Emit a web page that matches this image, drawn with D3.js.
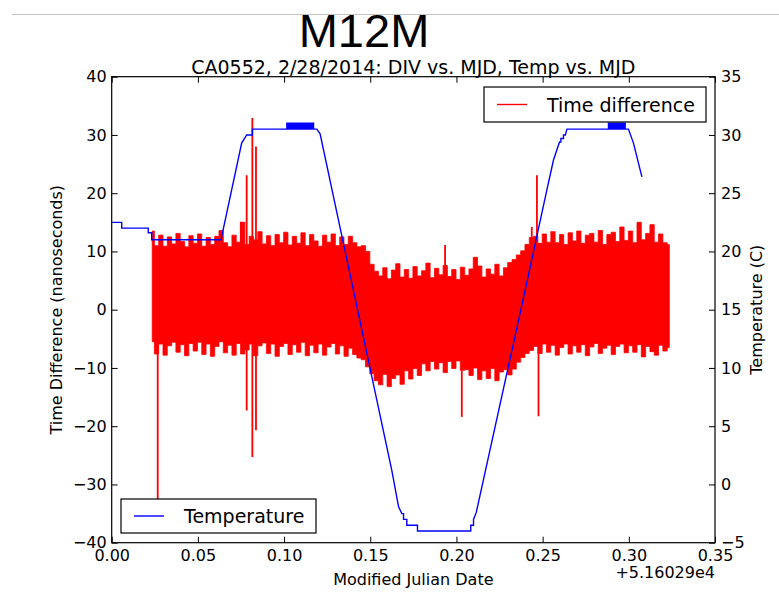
<!DOCTYPE html>
<html>
<head>
<meta charset="utf-8">
<script src="https://cdn.jsdelivr.net/npm/d3@7.9.0/dist/d3.min.js"></script>
<style>
  body { margin: 0; background: #fff; }
  text { font-family: "DejaVu Sans", sans-serif; fill: #000; }
</style>
</head>
<body>
<svg id="chart" width="779" height="595"></svg>
<script>
// ---- data ----
const slideTitle = 'M12M';
const plotTitle = 'CA0552, 2/28/2014: DIV vs. MJD, Temp vs. MJD';
const xLabel = 'Modified Julian Date';
const yLeftLabel = 'Time Difference (nanoseconds)';
const yRightLabel = 'Temperature (C)';
const xOffsetLabel = '+5.16029e4';

const xTicks = [0, 0.05, 0.10, 0.15, 0.20, 0.25, 0.30, 0.35];
const yLeftTicks = [-40, -30, -20, -10, 0, 10, 20, 30, 40];
const yRightTicks = [-5, 0, 5, 10, 15, 20, 25, 30, 35];

// time difference: envelope of the dense noise (upper / lower) at sample dates
const tdX = [
  0.0235, 0.026, 0.0285, 0.031, 0.0335, 0.036, 0.0385, 0.041, 0.0435, 0.046,
  0.0485, 0.051, 0.0535, 0.056, 0.0585, 0.061, 0.0635, 0.066, 0.0685, 0.071,
  0.0735, 0.076, 0.0785, 0.081, 0.0835, 0.086, 0.0885, 0.091, 0.0935, 0.096,
  0.0985, 0.101, 0.1035, 0.106, 0.1085, 0.111, 0.1135, 0.116, 0.1185, 0.121,
  0.1235, 0.126, 0.1285, 0.131, 0.1335, 0.136, 0.1385, 0.141, 0.1435,
  0.146, 0.1485, 0.151, 0.1535,
  0.156, 0.1585, 0.161, 0.1635, 0.166, 0.1685, 0.171, 0.1735, 0.176, 0.1785,
  0.181, 0.1835, 0.186, 0.1885, 0.191, 0.1935, 0.196, 0.1985, 0.201, 0.2035,
  0.206, 0.2085, 0.211, 0.2135, 0.216, 0.2185, 0.221, 0.2235, 0.226, 0.2285, 0.231,
  0.2335, 0.236, 0.2385, 0.241, 0.2435,
  0.246, 0.2485, 0.251, 0.2535, 0.256, 0.2585, 0.261, 0.2635, 0.266, 0.2685,
  0.271, 0.2735, 0.276, 0.2785, 0.281, 0.2835, 0.286, 0.2885, 0.291, 0.2935,
  0.296, 0.2985, 0.301, 0.3035, 0.306, 0.3085, 0.311, 0.3135, 0.316, 0.3185, 0.321, 0.3235
];
const tdHi = [
  13.5, 11.0, 12.8, 10.9, 12.5, 11.3, 13.1, 11.7, 10.8, 12.7,
  11.4, 13.0, 10.9, 12.4, 11.2, 12.6, 13.6, 11.5, 10.8, 12.8,
  11.6, 15.0, 11.2, 12.6, 12.0, 13.4, 11.3, 12.7, 11.0, 12.9,
  11.5, 13.3, 11.1, 12.6, 11.4, 13.2, 11.0, 12.9, 11.8, 10.9,
  12.8, 11.6, 13.0, 11.0, 12.5, 11.2, 12.6, 11.5, 10.8,
  11.0, 10.0, 7.8, 6.6,
  5.8, 7.2, 5.3, 6.8, 7.9, 5.6, 6.9, 5.4, 7.4, 5.8,
  6.7, 8.0, 5.5, 7.1, 6.0, 7.6, 5.7, 6.9, 5.2, 7.3,
  5.9, 7.0, 9.0, 7.5, 5.6, 7.0, 6.1, 7.8, 5.8, 7.2, 8.1,
  8.6, 9.4, 10.1, 11.2, 12.4,
  12.6, 11.4, 13.0, 11.6, 13.4, 11.5, 12.9, 11.2, 13.2, 11.8,
  13.5, 11.4, 12.8, 13.1, 11.6, 13.6, 11.2, 12.9, 13.3, 11.7,
  14.2, 11.9, 13.5, 11.5, 15.0, 12.0, 13.1, 14.6, 11.6, 13.0, 11.5, 11.2
];
const tdLo = [
  -5.5, -7.6, -5.9, -7.8, -6.2, -5.6, -7.3, -6.0, -7.9, -5.8,
  -7.1, -5.6, -7.7, -5.9, -8.0, -6.3, -5.5, -7.4, -6.1, -7.8,
  -5.8, -7.6, -6.9, -5.9, -7.9, -6.2, -5.7, -7.5, -5.9, -8.0,
  -6.3, -5.8, -7.7, -6.0, -7.3, -5.6, -7.9, -6.1, -7.4, -5.9,
  -7.8, -6.4, -5.8, -7.6, -6.2, -8.0, -6.6, -7.7, -8.3,
  -8.6, -9.8, -11.0, -12.2,
  -12.9, -11.1, -13.2, -11.8, -11.2, -12.8, -10.5, -11.9, -10.1, -11.3,
  -9.3, -10.5, -8.9, -10.2, -9.1, -10.8, -8.9, -10.1, -8.8, -10.4,
  -10.3, -11.3, -10.0, -12.0, -10.5, -11.8, -10.1, -12.2, -10.7, -10.3, -11.2,
  -10.2, -9.0, -8.2, -7.5, -7.0,
  -6.3, -7.5, -5.9, -7.3, -6.1, -7.8, -6.5, -5.9, -7.6, -6.2,
  -7.3, -6.0, -7.9, -6.4, -5.8, -7.5, -6.6, -6.1, -7.7, -6.3,
  -5.9, -7.4, -6.2, -7.3, -6.0, -8.1, -6.3, -7.2, -7.8, -6.1, -7.1, -6.5
];
// isolated outliers of the time difference (date, value)
const spikeX = [0.0267, 0.0749, 0.0783, 0.0783, 0.0816, 0.0816, 0.0837, 0.0837, 0.1934, 0.2031, 0.2437, 0.2467, 0.2476];
const spikeY = [-32.8, 15.1, 23.1, -17.3, 32.9, -25.3, 28.0, -20.7, 11.1, -18.4, 14.2, 23.1, -18.3];

// temperature trace (date, deg C)
const tempX = [0, 0.0058, 0.0058, 0.0212, 0.0212, 0.0232, 0.0232, 0.0634, 0.0754, 0.0783, 0.0816, 0.0816,
  0.119, 0.1209, 0.1625, 0.1664, 0.1683, 0.1693, 0.1693, 0.1712, 0.1712, 0.1774, 0.1774,
  0.2083, 0.2083, 0.2099, 0.2099, 0.2115, 0.2399, 0.2525, 0.2563, 0.2598, 0.2606, 0.2606,
  0.2621, 0.2621, 0.2632, 0.2641, 0.2998, 0.3027, 0.3076];
const tempY = [22.5, 22.5, 22.0, 22.0, 21.6, 21.6, 21.0, 21.0, 29.3, 30.0, 30.0, 30.5,
  30.5, 30.1, 1.2, -1.9, -2.5, -2.5, -3.0, -3.0, -3.5, -3.5, -4.0,
  -4.0, -3.5, -3.5, -3.0, -2.4, 16.7, 25.3, 27.85, 29.4, 29.4, 29.7,
  29.7, 30.0, 30.0, 30.5, 30.5, 29.3, 26.4];
// dates where the sensor flickered up to 31 C on the plateaus
const flickerX = [
  0.1016, 0.1024, 0.1033, 0.1041, 0.1047, 0.1053, 0.1058, 0.1063, 0.1067, 0.1072,
  0.1077, 0.1081, 0.1086, 0.1091, 0.1095, 0.1100, 0.1106, 0.1110, 0.1115, 0.1119,
  0.1124, 0.1129, 0.1133, 0.1138, 0.1143, 0.1147, 0.1153, 0.1158, 0.1163, 0.1169,
  0.2882, 0.2887, 0.2891, 0.2896, 0.2900, 0.2905, 0.2909, 0.2914, 0.2918, 0.2923,
  0.2927, 0.2932, 0.2936, 0.2941, 0.2945, 0.2950, 0.2954, 0.2959, 0.2963, 0.2968,
  0.2972, 0.2977
];
const flickerTemp = 31.0;
const plateauTemp = 30.5;

// ---- layout ----
const width = 779, height = 595;
const plot = { left: 111.7, right: 715, top: 76.7, bottom: 542.7 };
const tickLen = 6;

const svg = d3.select('#chart');

const x = d3.scaleLinear().domain([0, 0.35]).range([plot.left, plot.right]);
const yL = d3.scaleLinear().domain([-40, 40]).range([plot.bottom, plot.top]);
const yR = d3.scaleLinear().domain([-5, 35]).range([plot.bottom, plot.top]);

// slide header
svg.append('line')
  .attr('x1', 12).attr('x2', width).attr('y1', 14.5).attr('y2', 14.5)
  .attr('stroke', '#c4c4c4').attr('stroke-width', 1.2);
svg.append('text')
  .attr('x', 364).attr('y', 47)
  .attr('text-anchor', 'middle')
  .style('font-family', '"Liberation Sans", Arial, sans-serif')
  .style('font-size', '47px')
  .text(slideTitle);

svg.append('text')
  .attr('x', (plot.left + plot.right) / 2).attr('y', 74)
  .attr('text-anchor', 'middle')
  .style('font-size', '19px')
  .text(plotTitle);

svg.append('defs').append('clipPath').attr('id', 'clip')
  .append('rect')
  .attr('x', plot.left).attr('y', plot.top)
  .attr('width', plot.right - plot.left).attr('height', plot.bottom - plot.top);

const g = svg.append('g').attr('clip-path', 'url(#clip)');

// time difference band
const band = tdX.map((d, i) => ({ x: d, hi: tdHi[i], lo: tdLo[i] }));
g.append('path')
  .datum(band)
  .attr('fill', '#ff0000')
  .attr('stroke', '#ff0000')
  .attr('stroke-width', 0.8)
  .attr('d', d3.area().curve(d3.curveStep).x(d => x(d.x)).y0(d => yL(d.lo)).y1(d => yL(d.hi)));

// outliers
g.selectAll('line.spike')
  .data(spikeX.map((d, i) => ({ x: d, y: spikeY[i] })))
  .join('line')
  .attr('class', 'spike')
  .attr('x1', d => x(d.x)).attr('x2', d => x(d.x))
  .attr('y1', yL(0)).attr('y2', d => yL(d.y))
  .attr('stroke', '#ff0000')
  .attr('stroke-width', 1.8);

// temperature line, with flicker blips inserted on the plateaus
const temp = tempX.map((d, i) => ({ x: d, t: tempY[i] }));
const flick = [];
flickerX.forEach(fx => {
  flick.push({ x: fx, t: plateauTemp }, { x: fx, t: flickerTemp }, { x: fx + 0.0002, t: flickerTemp }, { x: fx + 0.0002, t: plateauTemp });
});
const tempPts = [];
let fi = 0;
temp.forEach((p, i) => {
  tempPts.push(p);
  const next = temp[i + 1];
  if (next && p.t === plateauTemp && next.t === plateauTemp) {
    while (fi < flick.length && flick[fi].x < next.x) {
      if (flick[fi].x >= p.x) tempPts.push(flick[fi]);
      fi++;
    }
  }
});

g.append('path')
  .datum(tempPts)
  .attr('fill', 'none')
  .attr('stroke', '#0000ff')
  .attr('stroke-width', 1.4)
  .attr('d', d3.line().x(d => x(d.x)).y(d => yR(d.t)));

// frame
svg.append('rect')
  .attr('x', plot.left).attr('y', plot.top)
  .attr('width', plot.right - plot.left).attr('height', plot.bottom - plot.top)
  .attr('fill', 'none').attr('stroke', '#000').attr('stroke-width', 1.2);

// axes (ticks point inward)
const axisStyle = sel => {
  sel.select('.domain').remove();
  sel.selectAll('.tick line').attr('stroke', '#000').attr('stroke-width', 1);
  sel.selectAll('.tick text').style('font-family', '"DejaVu Sans", sans-serif').style('font-size', '16px').attr('fill', '#000');
};

svg.append('g')
  .attr('transform', `translate(0,${plot.bottom})`)
  .call(d3.axisBottom(x).tickValues(xTicks).tickFormat(d3.format('.2f')).tickSize(-tickLen).tickPadding(7))
  .call(axisStyle);

svg.append('g')
  .attr('transform', `translate(0,${plot.top})`)
  .call(d3.axisTop(x).tickValues(xTicks).tickFormat('').tickSize(-tickLen))
  .call(axisStyle);

svg.append('g')
  .attr('transform', `translate(${plot.left},0)`)
  .call(d3.axisLeft(yL).tickValues(yLeftTicks).tickFormat(d3.format('d')).tickSize(-tickLen).tickPadding(5))
  .call(axisStyle);

svg.append('g')
  .attr('transform', `translate(${plot.right},0)`)
  .call(d3.axisRight(yR).tickValues(yRightTicks).tickFormat(d3.format('d')).tickSize(-tickLen).tickPadding(6))
  .call(axisStyle);

// axis labels
svg.append('text')
  .attr('x', (plot.left + plot.right) / 2).attr('y', 585)
  .attr('text-anchor', 'middle')
  .style('font-size', '16px')
  .text(xLabel);

svg.append('text')
  .attr('x', plot.right).attr('y', 578)
  .attr('text-anchor', 'end')
  .style('font-size', '16px')
  .text(xOffsetLabel);

svg.append('text')
  .attr('transform', `translate(62,${(plot.top + plot.bottom) / 2}) rotate(-90)`)
  .attr('text-anchor', 'middle')
  .style('font-size', '16px')
  .text(yLeftLabel);

svg.append('text')
  .attr('transform', `translate(762,${(plot.top + plot.bottom) / 2}) rotate(-90)`)
  .attr('text-anchor', 'middle')
  .style('font-size', '16px')
  .text(yRightLabel);

// legends
function legend(box, color, label) {
  const lg = svg.append('g');
  lg.append('rect')
    .attr('x', box.x).attr('y', box.y).attr('width', box.w).attr('height', box.h)
    .attr('fill', '#fff').attr('stroke', '#000').attr('stroke-width', 1.2);
  const cy = box.y + box.h / 2;
  lg.append('line')
    .attr('x1', box.x + 13).attr('x2', box.x + 43).attr('y1', cy).attr('y2', cy)
    .attr('stroke', color).attr('stroke-width', 1.4);
  lg.append('text')
    .attr('x', box.x + 63).attr('y', cy + 7)
    .style('font-size', '19px')
    .text(label);
}
legend({ x: 484, y: 87, w: 222, h: 35 }, '#ff0000', 'Time difference');
legend({ x: 121, y: 499, w: 195, h: 34 }, '#0000ff', 'Temperature');
</script>
</body>
</html>
